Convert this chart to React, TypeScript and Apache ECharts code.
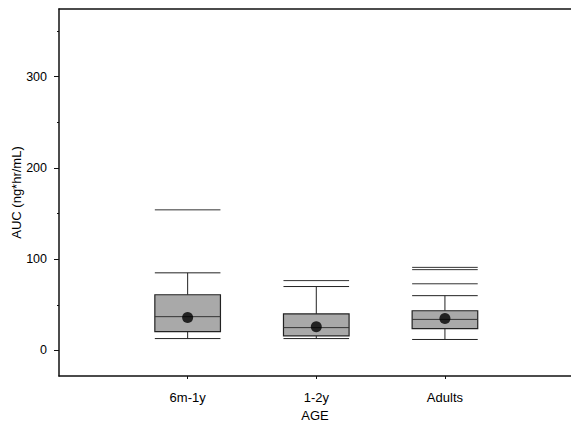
import React, { useEffect, useRef } from "react";
import * as echarts from "echarts";

const categories = ["6m-1y", "1-2y", "Adults"];
const categoryPos = [1, 2, 3];
const whiskerLow = [13, 13, 12];
const q1 = [20.5, 16, 24];
const median = [37, 25, 34];
const q3 = [61, 40, 43.5];
const whiskerHigh = [85, 70, 60];
const means = [36, 26, 35];
const outlierCat = [0, 1, 2, 2, 2];
const outlierVal = [154, 76.5, 73, 88.5, 91];
const yMajorTicks = [0, 100, 200, 300];
const yMinorTicks = [50, 150, 250, 350];

const FONT = "Liberation Sans, Arial, Helvetica, sans-serif";
const BOX_W = 0.51;

export default function App() {
  const ref = useRef<HTMLDivElement>(null);
  useEffect(() => {
    if (!ref.current) return;
    const chart = echarts.init(ref.current, null, { renderer: "svg" });
    const boxData = categoryPos.map((x, i) => [x, whiskerLow[i], q1[i], median[i], q3[i], whiskerHigh[i]]);
    const outData = outlierCat.map((c, i) => [categoryPos[c], outlierVal[i]]);
    const meanData = categoryPos.map((x, i) => [x, means[i]]);
    chart.setOption({
      animation: false,
      backgroundColor: "#ffffff",
      grid: { left: 59, top: 9, right: 0, bottom: 48, containLabel: false, outerBoundsMode: "none" },
      xAxis: [
        {
          type: "value",
          min: 0,
          max: 3.98,
          name: "AGE",
          nameLocation: "middle",
          nameGap: 33,
          nameTextStyle: { fontFamily: FONT, fontSize: 13, color: "#000" },
          axisLine: { show: true, onZero: false, lineStyle: { color: "#111", width: 1.5 } },
          axisTick: { show: true, customValues: categoryPos, length: 3, lineStyle: { color: "#111" } },
          axisLabel: {
            customValues: categoryPos,
            formatter: (v: number) => categories[Math.round(v) - 1] ?? "",
            fontFamily: FONT,
            fontSize: 13,
            color: "#000",
            margin: 15,
          },
          splitLine: { show: false },
        },
        {
          type: "value",
          position: "top",
          min: 0,
          max: 3.98,
          axisLine: { show: true, onZero: false, lineStyle: { color: "#111", width: 1.5 } },
          axisTick: { show: false },
          axisLabel: { show: false },
          splitLine: { show: false },
        },
      ],
      yAxis: [
        {
          type: "value",
          min: -28,
          max: 374,
          name: "AUC (ng*hr/mL)",
          nameLocation: "middle",
          nameGap: 36,
          nameMoveOverlap: false,
          nameTextStyle: { fontFamily: FONT, fontSize: 13, color: "#000" },
          axisLine: { show: true, onZero: false, lineStyle: { color: "#111", width: 1.5 } },
          axisTick: { show: true, customValues: yMajorTicks, length: 5, lineStyle: { color: "#111" } },
          axisLabel: { customValues: yMajorTicks, fontFamily: FONT, fontSize: 12.5, color: "#000", margin: 12 },
          splitLine: { show: false },
        },
        {
          type: "value",
          min: -28,
          max: 374,
          position: "left",
          axisLine: { show: false, onZero: false },
          axisTick: { show: true, customValues: yMinorTicks, length: 2, lineStyle: { color: "#111" } },
          axisLabel: { show: false },
          splitLine: { show: false },
        },
      ],
      series: [
        {
          type: "custom",
          data: boxData,
          encode: { x: 0, y: [1, 2, 3, 4, 5] },
          renderItem: (params: any, api: any) => {
            const x = api.value(0);
            const w = api.size([BOX_W, 0])[0];
            const pLo = api.coord([x, api.value(1)]);
            const pQ1 = api.coord([x, api.value(2)]);
            const pMed = api.coord([x, api.value(3)]);
            const pQ3 = api.coord([x, api.value(4)]);
            const pHi = api.coord([x, api.value(5)]);
            const cx = pLo[0];
            const l = cx - w / 2;
            const r = cx + w / 2;
            const ls = { stroke: "#222", lineWidth: 1 };
            return {
              type: "group",
              children: [
                { type: "line", shape: { x1: cx, y1: pLo[1], x2: cx, y2: pQ1[1] }, style: ls },
                { type: "line", shape: { x1: cx, y1: pQ3[1], x2: cx, y2: pHi[1] }, style: ls },
                { type: "line", shape: { x1: l, y1: pLo[1], x2: r, y2: pLo[1] }, style: ls },
                { type: "line", shape: { x1: l, y1: pHi[1], x2: r, y2: pHi[1] }, style: ls },
                {
                  type: "rect",
                  shape: { x: l, y: pQ3[1], width: w, height: pQ1[1] - pQ3[1] },
                  style: { fill: "#a9a9a9", stroke: "#222", lineWidth: 1.2 },
                },
                { type: "line", shape: { x1: l, y1: pMed[1], x2: r, y2: pMed[1] }, style: { stroke: "#333", lineWidth: 1 } },
              ],
            };
          },
          z: 2,
        },
        {
          type: "custom",
          data: outData,
          encode: { x: 0, y: 1 },
          renderItem: (params: any, api: any) => {
            const x = api.value(0);
            const w = api.size([BOX_W, 0])[0];
            const p = api.coord([x, api.value(1)]);
            return {
              type: "line",
              shape: { x1: p[0] - w / 2, y1: p[1], x2: p[0] + w / 2, y2: p[1] },
              style: { stroke: "#333", lineWidth: 1 },
            };
          },
          z: 2,
        },
        {
          type: "scatter",
          data: meanData,
          symbol: "circle",
          symbolSize: 11,
          itemStyle: { color: "#000" },
          z: 5,
        },
      ],
    });
    return () => chart.dispose();
  }, []);
  return (
    <div
      ref={ref}
      style={{ position: "fixed", left: 0, top: 0, width: 571, height: 424 }}
    />
  );
}
